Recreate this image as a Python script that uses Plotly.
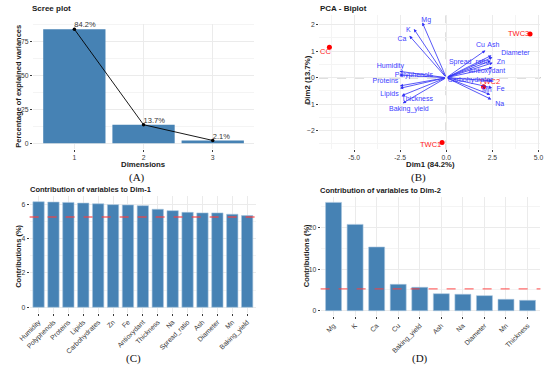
import plotly.graph_objects as go

W, H = 550, 369
def px(x): return x / W
def py(y): return 1 - y / H

# ---------------- data ----------------
dims = [1, 2, 3]
explained = [84.2, 13.7, 2.1]

ind_names = ["CC", "TWC1", "TWC2", "TWC3"]
ind_x = [-6.34, -0.23, 2.02, 4.54]
ind_y = [1.15, -2.45, -0.34, 1.65]
ind_lab_x = [-6.55, -0.85, 2.34, 3.92]
ind_lab_y = [0.96, -2.54, -0.15, 1.65]

var_names = ["Mg", "K", "Ca", "Cu", "Ash", "Diameter", "Zn", "Spread_ratio",
             "Antioxydant", "Carbohydrates", "Fe", "Mn", "Na", "Humidity",
             "Polyphenols", "Proteins", "Lipids", "Thickness", "Baking_yield"]
var_x = [-1.30, -1.76, -2.00, 2.12, 2.45, 2.50, 2.52, 2.42, 2.50, 2.50, 2.48,
         2.38, 2.44, -2.54, -2.54, -2.52, -2.51, -2.42, -2.36]
var_y = [2.08, 1.84, 1.58, 1.03, 0.84, 0.77, 0.56, 0.64, 0.38, -0.12, -0.38,
         -0.64, -0.82, 0.24, 0.10, -0.31, -0.40, -0.68, -0.96]
var_lab_x = [-1.09, -2.06, -2.41, 1.85, 2.55, 3.75, 2.96, 1.23, 2.20, 1.32,
             2.94, 2.20, 2.90, -3.03, -1.76, -3.30, -3.08, -1.58, -2.03]
var_lab_y = [2.18, 1.80, 1.45, 1.21, 1.21, 0.94, 0.60, 0.60, 0.26, -0.09,
             -0.44, -0.46, -0.99, 0.42, 0.10, -0.15, -0.61, -0.82, -1.19]

dim1_vars = ["Humidity", "Polyphenols", "Proteins", "Lipids", "Carbohydrates",
             "Zn", "Fe", "Antioxydant", "Thickness", "Na", "Spread_ratio",
             "Ash", "Diameter", "Mn", "Baking_yield"]
dim1_contrib = [6.15, 6.13, 6.11, 6.07, 6.03, 5.98, 5.96, 5.92, 5.71, 5.63,
                5.53, 5.50, 5.50, 5.42, 5.34]

dim2_vars = ["Mg", "K", "Ca", "Cu", "Baking_yield", "Ash", "Na", "Diameter",
             "Mn", "Thickness"]
dim2_contrib = [26.1, 20.8, 15.35, 6.35, 5.64, 4.10, 3.95, 3.63, 2.74, 2.50]

expected_contrib = 100 / 19

# ---------------- styling ----------------
FONT = "Liberation Sans"
STEEL = "#4682B4"
GRID = "#EBEBEB"
MINOR = "#F4F4F4"
TICKC = "#3A3A3A"
VARC = "#2F2FF5"

fig = go.Figure()

# ---- (A) scree plot ----
fig.add_trace(go.Bar(x=dims, y=explained, width=0.9, marker_color=STEEL,
                     marker_line_width=0, xaxis="x", yaxis="y"))
fig.add_trace(go.Scatter(x=dims, y=explained, mode="lines+markers",
                         line=dict(color="black", width=0.9),
                         marker=dict(color="black", size=3.5),
                         xaxis="x", yaxis="y"))
fig.add_trace(go.Scatter(x=dims, y=explained, mode="text", cliponaxis=False,
                         text=[f"{v}%" for v in explained],
                         textposition="top right",
                         textfont=dict(size=7.5, color="#333333", family=FONT),
                         xaxis="x", yaxis="y"))

# ---- (B) biplot ----
fig.add_trace(go.Scatter(x=ind_x, y=ind_y, mode="markers", cliponaxis=False,
                         marker=dict(color="#FF0000", size=5),
                         xaxis="x2", yaxis="y2"))
fig.add_trace(go.Scatter(x=ind_lab_x, y=ind_lab_y, mode="text", text=ind_names,
                         cliponaxis=False,
                         textfont=dict(size=7.5, color="#FF2020", family=FONT),
                         xaxis="x2", yaxis="y2"))
fig.add_trace(go.Scatter(x=var_lab_x, y=var_lab_y, mode="text", text=var_names,
                         cliponaxis=False,
                         textfont=dict(size=7, color="#4040FF", family=FONT),
                         xaxis="x2", yaxis="y2"))

# ---- (C) contributions Dim-1 ----
fig.add_trace(go.Bar(x=dim1_vars, y=dim1_contrib, width=0.76,
                     marker=dict(color=STEEL, line=dict(color="#A8C4DE", width=0.6)),
                     xaxis="x3", yaxis="y3"))
# ---- (D) contributions Dim-2 ----
fig.add_trace(go.Bar(x=dim2_vars, y=dim2_contrib, width=0.74,
                     marker=dict(color=STEEL, line=dict(color="#A8C4DE", width=0.6)),
                     xaxis="x4", yaxis="y4"))

annotations = []
shapes = []

# arrows for variables
for vx, vy in zip(var_x, var_y):
    annotations.append(dict(x=vx, y=vy, ax=0, ay=0, xref="x2", yref="y2",
                            axref="x2", ayref="y2", text="", showarrow=True,
                            arrowhead=2, arrowsize=0.8, arrowwidth=0.8,
                            arrowcolor=VARC, standoff=0, startstandoff=0))

# reference lines in biplot
shapes.append(dict(type="line", xref="x2 domain", yref="y2", x0=0, x1=1, y0=0, y1=0,
                   line=dict(color="#555555", width=1, dash="dash"), layer="below"))
shapes.append(dict(type="line", xref="x2", yref="y2 domain", x0=0, x1=0, y0=0, y1=1,
                   line=dict(color="#555555", width=1, dash="dash"), layer="below"))
# expected contribution lines
for xa, ya in (("x3", "y3"), ("x4", "y4")):
    shapes.append(dict(type="line", xref=f"{xa} domain", yref=ya, x0=0, x1=1,
                       y0=expected_contrib, y1=expected_contrib,
                       line=dict(color="rgba(255,60,60,0.75)", width=1.4, dash="dash")))

def txt(x, y, s, size=7.5, bold=True, xanchor="left", angle=0, family=FONT, color="#1A1A1A"):
    annotations.append(dict(x=px(x), y=py(y), xref="paper", yref="paper",
                            text=f"<b>{s}</b>" if bold else s, showarrow=False,
                            xanchor=xanchor, yanchor="middle", textangle=angle,
                            borderpad=0,
                            font=dict(size=size, family=family, color=color)))

# titles
txt(21, 8, "Scree plot", 8)
txt(316, 8, "PCA - Biplot", 8)
txt(18, 189, "Contribution of variables to Dim-1", 7.5)
txt(316, 190, "Contribution of variables to Dim-2", 7.5)
# axis titles
txt(136, 164.5, "Dimensions", 7.8, xanchor="center")
txt(8, 86, "Percentage of explained variances", 7.5, xanchor="center", angle=-90)
txt(430, 164.5, "Dim1 (84.2%)", 7.8, xanchor="center")
txt(304, 80, "Dim2 (13.7%)", 7.8, xanchor="center", angle=-90)
txt(7, 256, "Contributions (%)", 7.5, xanchor="center", angle=-90)
txt(303, 256, "Contributions (%)", 7.5, xanchor="center", angle=-90)
# panel labels
for lab, x, y in (("(A)", 129, 178), ("(B)", 418, 178), ("(C)", 126, 358), ("(D)", 420, 358)):
    txt(x, y, lab, 11, bold=False, xanchor="center", family="Liberation Serif", color="#111111")

def ax_common(**kw):
    d = dict(showgrid=True, gridcolor=GRID, gridwidth=0.8, zeroline=False,
             showline=False, ticks="outside", ticklen=2, tickwidth=0.6,
             tickcolor=TICKC, tickfont=dict(size=6.8, color=TICKC, family=FONT))
    d.update(kw)
    return d

fig.update_layout(
    width=W, height=H, margin=dict(l=0, r=0, t=0, b=0),
    paper_bgcolor="white", plot_bgcolor="white", showlegend=False,
    font=dict(family=FONT),
    xaxis=ax_common(domain=[px(22.4), px(249.6)], range=[0.4, 3.6],
                    tickvals=dims, ticktext=[str(d) for d in dims], anchor="y"),
    yaxis=ax_common(domain=[py(149), py(23.5)], range=[-4.21, 88.41],
                    tickvals=[0, 25, 50, 75], anchor="x",
                    minor=dict(dtick=12.5, tick0=0, showgrid=True, gridcolor=MINOR, ticks="")),
    xaxis2=ax_common(domain=[px(316.1), px(543.2)], range=[-6.9, 5.1],
                     tickvals=[-5, -2.5, 0, 2.5, 5],
                     ticktext=["-5.0", "-2.5", "0.0", "2.5", "5.0"], anchor="y2",
                     minor=dict(dtick=1.25, tick0=0, showgrid=True, gridcolor=MINOR, ticks="")),
    yaxis2=ax_common(domain=[py(149.25), py(15.4)], range=[-2.7, 2.35],
                     tickvals=[-2, -1, 0, 1, 2], anchor="x2",
                     minor=dict(dtick=0.5, tick0=0, showgrid=True, gridcolor=MINOR, ticks="")),
    xaxis3=ax_common(domain=[px(19.1), px(251.5)], range=[-0.6, 14.6],
                     type="category", tickangle=-45, anchor="y3",
                     categoryorder="array", categoryarray=dim1_vars),
    yaxis3=ax_common(domain=[py(312.6), py(196.4)], range=[-0.31, 6.46],
                     tickvals=[0, 2, 4, 6], anchor="x3",
                     minor=dict(dtick=1, tick0=0, showgrid=True, gridcolor=MINOR, ticks="")),
    xaxis4=ax_common(domain=[px(317.7), px(543.3)], range=[-0.6, 9.6],
                     type="category", tickangle=-45, anchor="y4",
                     categoryorder="array", categoryarray=dim2_vars),
    yaxis4=ax_common(domain=[py(316.1), py(197)], range=[-1.3, 27.4],
                     tickvals=[0, 10, 20], anchor="x4",
                     minor=dict(dtick=5, tick0=0, showgrid=True, gridcolor=MINOR, ticks="")),
    annotations=annotations, shapes=shapes,
)

fig.write_html("out.html", config={"displayModeBar": False},
               post_script="document.body.style.margin='0px';document.body.style.overflow='hidden';")
